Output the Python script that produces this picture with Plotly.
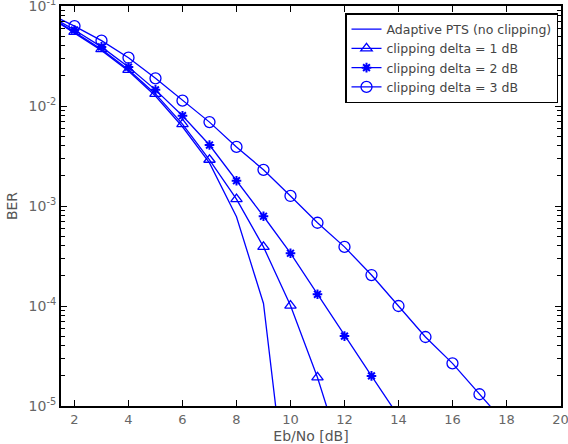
import plotly.graph_objects as go

x_noclip = [1, 2, 3, 4, 5, 6, 7, 8, 9, 10]
ber_noclip = [8.0e-2, 5.4e-2, 3.6e-2, 2.24e-2, 1.26e-2, 6.2e-3, 2.7e-3, 7.8e-4, 1.06e-4, 5.6e-7]

x_d1 = [1, 2, 3, 4, 5, 6, 7, 8, 9, 10, 11, 12]
ber_d1 = [8.0e-2, 5.5e-2, 3.7e-2, 2.3e-2, 1.32e-2, 6.6e-3, 2.9e-3, 1.17e-3, 3.9e-4, 1.01e-4, 1.93e-5, 2.7e-6]

x_d2 = [1, 2, 3, 4, 5, 6, 7, 8, 9, 10, 11, 12, 13, 14]
ber_d2 = [8.2e-2, 5.75e-2, 3.9e-2, 2.45e-2, 1.45e-2, 8.0e-3, 4.07e-3, 1.79e-3, 7.9e-4, 3.37e-4, 1.31e-4, 5.0e-5, 2.0e-5, 7.9e-6]

x_d3 = [1, 2, 3, 4, 5, 6, 7, 8, 9, 10, 11, 12, 13, 14, 15, 16, 17, 18]
ber_d3 = [8.5e-2, 6.3e-2, 4.5e-2, 3.04e-2, 1.89e-2, 1.13e-2, 6.9e-3, 3.9e-3, 2.3e-3, 1.26e-3,
          6.8e-4, 3.9e-4, 2.04e-4, 1.0e-4, 4.9e-5, 2.67e-5, 1.31e-5, 6.5e-6]

names = ["Adaptive PTS (no clipping)", "clipping delta = 1 dB",
         "clipping delta = 2 dB", "clipping delta = 3 dB"]
x_ticks = [2, 4, 6, 8, 10, 12, 14, 16, 18, 20]
y_ticks = [1e-5, 1e-4, 1e-3, 1e-2, 1e-1]
y_ticktext = ["10<sup>-5</sup>", "10<sup>-4</sup>", "10<sup>-3</sup>", "10<sup>-2</sup>", "10<sup>-1</sup>"]
y_minor = [m * 10.0 ** e for e in range(-5, -1) for m in range(2, 10)]

BLUE = "#0000ff"
fig = go.Figure()
fig.add_trace(go.Scatter(x=x_noclip, y=ber_noclip, mode="lines", name=names[0],
                         line=dict(color=BLUE, width=1.3)))
fig.add_trace(go.Scatter(x=x_d1, y=ber_d1, mode="lines+markers", name=names[1],
                         line=dict(color=BLUE, width=1.3),
                         marker=dict(symbol="triangle-up-open", size=10, color=BLUE,
                                     line=dict(width=1.3, color=BLUE))))
fig.add_trace(go.Scatter(x=x_d2, y=ber_d2, mode="lines+markers", name=names[2],
                         line=dict(color=BLUE, width=1.3),
                         marker=dict(symbol="asterisk-open", size=8, color=BLUE,
                                     line=dict(width=2, color=BLUE))))
fig.add_trace(go.Scatter(x=x_d3, y=ber_d3, mode="lines+markers", name=names[3],
                         line=dict(color=BLUE, width=1.3),
                         marker=dict(symbol="circle-open", size=11, color=BLUE,
                                     line=dict(width=1.3, color=BLUE))))
# invisible helper trace so the minor-tick overlay axis is drawn
fig.add_trace(go.Scatter(x=[None], y=[None], yaxis="y2", showlegend=False,
                         hoverinfo="skip", mode="lines"))

fig.update_layout(
    width=568, height=444,
    margin=dict(l=61, r=7, t=6, b=38),
    paper_bgcolor="white", plot_bgcolor="white",
    font=dict(family="DejaVu Sans, Liberation Sans, sans-serif", color="#555555", size=12),
    showlegend=True,
    legend=dict(x=0.994, y=0.9825, xanchor="right", yanchor="top",
                bgcolor="white", bordercolor="black", borderwidth=1.5,
                font=dict(size=12.5, color="#444444"),
                tracegroupgap=0, itemwidth=30),
    yaxis2=dict(type="log", range=[-5, -1], overlaying="y", side="left",
                tickvals=y_minor, ticks="inside", ticklen=4, tickwidth=1,
                tickcolor="black", showticklabels=False, showgrid=False,
                zeroline=False, showline=False, mirror="ticks", automargin=False),
)
fig.update_xaxes(range=[1.5, 20.02], tickvals=x_ticks, ticks="inside", ticklen=6, tickwidth=1,
                 tickcolor="black", showline=True, linecolor="black", linewidth=2,
                 mirror="ticks", showgrid=False, zeroline=False, automargin=False,
                 ticklabeloverflow="allow",
                 title=dict(text="Eb/No [dB]", font=dict(size=14, color="#555555"), standoff=9),
                 tickfont=dict(size=13, color="#666666"))
fig.update_yaxes(selector=dict(overlaying=None), type="log", range=[-5, -1],
                 tickvals=y_ticks, ticktext=y_ticktext,
                 ticks="inside", ticklen=6, tickwidth=1, tickcolor="black",
                 showline=True, linecolor="black", linewidth=2, mirror="ticks",
                 showgrid=False, zeroline=False, automargin=False,
                 ticklabeloverflow="allow",
                 title=dict(text="BER", font=dict(size=14, color="#555555"), standoff=8),
                 tickfont=dict(size=14, color="#666666"))

fig.write_html("out.html")
